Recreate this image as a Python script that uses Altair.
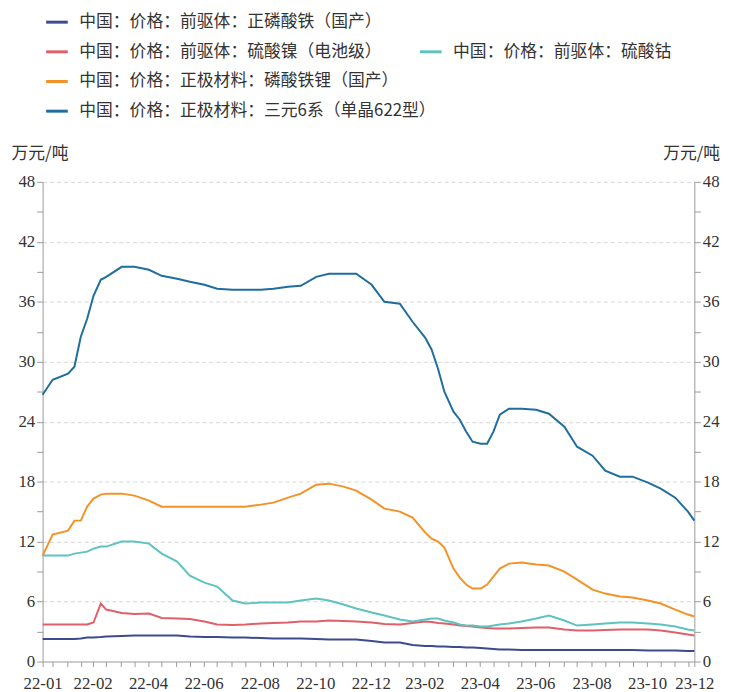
import altair as alt
import pandas as pd

# ---------------- data ----------------
dates = [
    "2022-01-04", "2022-01-15", "2022-02-01", "2022-02-08", "2022-02-15", "2022-02-22",
    "2022-03-01", "2022-03-09", "2022-03-15", "2022-04-01", "2022-04-15", "2022-05-01",
    "2022-05-15", "2022-06-01", "2022-06-15", "2022-07-01", "2022-07-15", "2022-08-01",
    "2022-08-15", "2022-09-01", "2022-09-15", "2022-10-01", "2022-10-15", "2022-11-01",
    "2022-11-15", "2022-12-01", "2022-12-15",
    "2023-01-01", "2023-01-15", "2023-02-01", "2023-02-15", "2023-03-01", "2023-03-08",
    "2023-03-15", "2023-03-22", "2023-04-01", "2023-04-08", "2023-04-15", "2023-04-22",
    "2023-05-01", "2023-05-08", "2023-05-15", "2023-05-22", "2023-06-01", "2023-06-15",
    "2023-07-01", "2023-07-15", "2023-08-01", "2023-08-15", "2023-09-01", "2023-09-15",
    "2023-10-01", "2023-10-15", "2023-11-01", "2023-11-15", "2023-12-01", "2023-12-15",
    "2023-12-22",
]

iron_phosphate = [
    2.25, 2.25, 2.25, 2.25, 2.3, 2.4, 2.4, 2.45, 2.5, 2.55, 2.6, 2.6, 2.6, 2.6, 2.5,
    2.45, 2.45, 2.4, 2.4, 2.35, 2.3, 2.3, 2.3, 2.25, 2.2, 2.2, 2.2,
    2.05, 1.9, 1.9, 1.65, 1.55, 1.55, 1.5, 1.5, 1.45, 1.45, 1.4, 1.4, 1.35, 1.3, 1.25,
    1.2, 1.2, 1.15, 1.15, 1.15, 1.15, 1.15, 1.15, 1.15, 1.15, 1.15, 1.1, 1.1, 1.1,
    1.05, 1.05,
]
nickel_sulfate = [
    3.7, 3.7, 3.7, 3.7, 3.7, 3.7, 3.9, 5.8, 5.2, 4.85, 4.75, 4.8, 4.35, 4.3, 4.25,
    4.0, 3.7, 3.65, 3.7, 3.8, 3.85, 3.9, 4.0, 4.0, 4.1, 4.05, 4.0,
    3.9, 3.75, 3.7, 3.85, 4.0, 3.95, 3.85, 3.8, 3.7, 3.6, 3.55, 3.5, 3.4, 3.35, 3.3,
    3.3, 3.3, 3.35, 3.4, 3.4, 3.2, 3.1, 3.1, 3.15, 3.2, 3.2, 3.2, 3.1, 2.9, 2.7, 2.6,
]
cobalt_sulfate = [
    10.6, 10.6, 10.6, 10.8, 10.9, 11.0, 11.3, 11.5, 11.5, 12.0, 12.0, 11.8, 10.8, 10.0,
    8.6, 7.9, 7.5, 6.1, 5.8, 5.9, 5.9, 5.9, 6.1, 6.3, 6.1, 5.7, 5.3,
    4.9, 4.6, 4.2, 4.0, 4.2, 4.3, 4.3, 4.1, 3.9, 3.7, 3.6, 3.6, 3.5, 3.5, 3.6, 3.7,
    3.8, 4.0, 4.3, 4.6, 4.1, 3.6, 3.7, 3.8, 3.9, 3.9, 3.8, 3.7, 3.5, 3.2, 3.1,
]
lfp = [
    10.6, 12.7, 13.1, 14.1, 14.1, 15.5, 16.3, 16.7, 16.8, 16.8, 16.6, 16.1, 15.5, 15.5,
    15.5, 15.5, 15.5, 15.5, 15.5, 15.7, 15.9, 16.4, 16.8, 17.7, 17.8, 17.5, 17.1,
    16.2, 15.3, 15.0, 14.4, 12.9, 12.3, 12.0, 11.4, 9.3, 8.4, 7.7, 7.3, 7.3, 7.7, 8.5,
    9.3, 9.8, 9.9, 9.7, 9.6, 9.0, 8.2, 7.2, 6.8, 6.5, 6.4, 6.1, 5.8, 5.2, 4.7, 4.5,
]
ncm622 = [
    26.7, 28.2, 28.8, 29.5, 32.5, 34.3, 36.6, 38.2, 38.5, 39.5, 39.5, 39.2, 38.6, 38.3,
    38.0, 37.7, 37.3, 37.2, 37.2, 37.2, 37.3, 37.5, 37.6, 38.5, 38.8, 38.8, 38.8,
    37.7, 36.0, 35.8, 34.0, 32.4, 31.2, 29.3, 27.0, 25.0, 24.2, 23.0, 22.0, 21.8, 21.8,
    23.0, 24.7, 25.3, 25.3, 25.2, 24.8, 23.5, 21.5, 20.6, 19.1, 18.5, 18.5, 17.9, 17.3,
    16.4, 15.0, 14.1,
]

names = [
    "中国：价格：前驱体：正磷酸铁（国产）",
    "中国：价格：前驱体：硫酸镍（电池级）",
    "中国：价格：前驱体：硫酸钴",
    "中国：价格：正极材料：磷酸铁锂（国产）",
    "中国：价格：正极材料：三元6系（单晶622型）",
]
series = [iron_phosphate, nickel_sulfate, cobalt_sulfate, lfp, ncm622]
colors = ["#3d4b8e", "#e0606a", "#5ec3bf", "#f39227", "#1f6e9d"]

y_ticks = list(range(0, 49, 3))
x_start, x_end = "2022-01-04", "2023-12-22"

# ---------------- styling ----------------
legend_pos = [(2, -174), (2, -144), (380, -144), (2, -114), (2, -84)]
NUM_FONT = "Liberation Serif"
CJK_FONT = "Noto Sans CJK SC"
AX_GREY = "#9a9a9a"
TXT = "#333333"

start_ms = int(pd.Timestamp(x_start, tz="UTC").value // 10**6)
end_ms = int(pd.Timestamp(x_end, tz="UTC").value // 10**6)

tick_days = []
for m in pd.date_range("2022-01-01", "2023-12-01", freq="MS", tz="UTC"):
    for d in (m + pd.Timedelta(days=14), m + pd.offsets.MonthEnd(0)):
        if pd.Timestamp(x_start, tz="UTC") < d < pd.Timestamp(x_end, tz="UTC"):
            tick_days.append(d)
tick_ms = [start_ms] + [int(d.value // 10**6) for d in tick_days] + [end_ms]

x_label_expr = (
    f"(datum.value <= {start_ms} || datum.value >= {end_ms} || "
    "(utcdate(datum.value) != 15 && utcmonth(datum.value) % 2 == 1)) "
    "? utcFormat(datum.value, '%y-%m') : ''"
)

x_enc = alt.X(
    "date:T",
    scale=alt.Scale(type="utc", domain=[start_ms, end_ms]),
    axis=alt.Axis(
        values=tick_ms, labelExpr=x_label_expr, title=None, grid=False,
        tickSize=5, tickColor=AX_GREY, domainColor=AX_GREY,
        labelFont=NUM_FONT, labelFontSize=17, labelColor=TXT,
        labelOverlap=False, labelFlush=False, labelPadding=9,
    ),
)

y_scale = alt.Scale(domain=[0, 48], nice=False, zero=True)


def y_axis(orient, with_grid):
    kw = dict(
        orient=orient, values=y_ticks,
        labelExpr="datum.value % 6 == 0 ? datum.label : ''",
        title="万元/吨", titleAngle=0, titleAlign="left", titleBaseline="alphabetic",
        titleX=-32, titleY=-24, titleFont=CJK_FONT, titleFontSize=17,
        titleFontWeight="normal", titleColor=TXT,
        labelFont=NUM_FONT, labelFontSize=17, labelColor=TXT, labelPadding=2,
        tickSize=6, tickColor=AX_GREY, domainColor=AX_GREY,
    )
    if with_grid:
        kw.update(
            grid=True, gridDash=[4, 3], gridColor="#d6d6d6",
            gridOpacity={"condition": {"test": "datum.value % 6 == 0 && datum.value > 0",
                                       "value": 1}, "value": 0},
        )
    else:
        kw.update(grid=False)
    return alt.Axis(**kw)


layers = []
for i, (name, vals, col) in enumerate(zip(names, series, colors)):
    df = pd.DataFrame({"date": dates, "value": vals, "series": name})
    if i == 0:
        y_enc = alt.Y("value:Q", scale=y_scale, axis=y_axis("left", True))
    elif i == 1:
        y_enc = alt.Y("value:Q", scale=y_scale, axis=y_axis("right", False))
    else:
        y_enc = alt.Y("value:Q", scale=y_scale, axis=None)
    lx, ly = legend_pos[i]
    layer = alt.Chart(df).mark_line(strokeWidth=2).encode(
        x=x_enc,
        y=y_enc,
        color=alt.Color(
            "series:N",
            scale=alt.Scale(domain=[name], range=[col]),
            legend=alt.Legend(
                orient="none", legendX=lx, legendY=ly, title=None, padding=0,
                symbolType="stroke", symbolStrokeWidth=3, symbolSize=480,
                labelFont=CJK_FONT, labelFontSize=17, labelColor=TXT,
                labelLimit=1000, labelOffset=10,
            ),
        ),
    )
    layers.append(layer)

chart = (
    alt.layer(*layers)
    .resolve_scale(color="independent")
    .resolve_axis(y="independent")
    .properties(
        width=659, height=485,
        autosize=alt.AutoSizeParams(type="none"),
        padding={"left": 35, "top": 172, "right": 31, "bottom": 27},
        background="white",
    )
    .configure_view(stroke=None)
)

chart.save("out.html", embed_options={"renderer": "svg", "actions": False})
